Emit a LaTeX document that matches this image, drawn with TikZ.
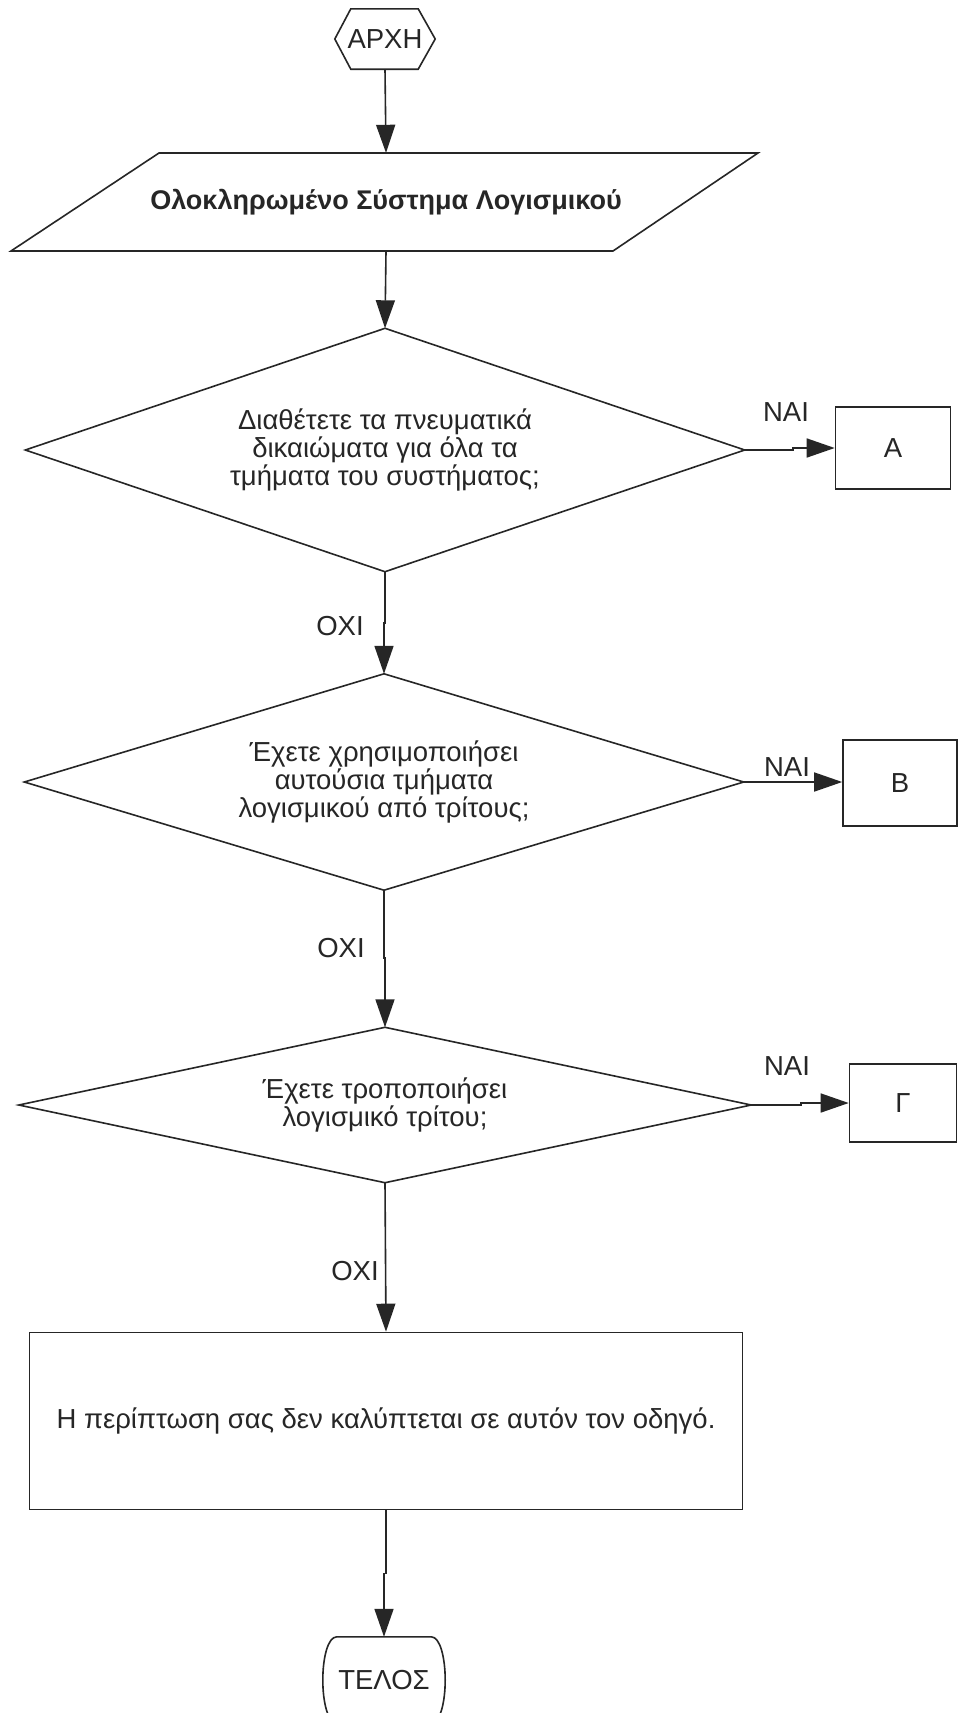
\documentclass[tikz,border=0pt]{standalone}
\usepackage{fontspec}
\setmainfont{Liberation Sans}
\usetikzlibrary{arrows.meta}
\begin{document}
\begin{tikzpicture}[x=1pt,y=-1pt,
  every node/.style={font=\fontsize{27.5}{28}\selectfont, inner sep=0pt, text=black!85},
  ln/.style={line width=1.6pt, draw=black!85},
  arr/.style={ln, -{Triangle[length=28pt,width=19pt]}},
  holder/.style={draw=none, align=center},
  boxnode/.style={ln, draw, rectangle, align=center}]
\clip (0,0) rectangle (958,1713);
\fill[white] (0,0) rectangle (958,1713);

% start hexagon
\node[holder, minimum width=100pt, minimum height=60pt] (start) at (385,39) {ΑΡΧΗ};
\draw[ln] (start.west) -- ([xshift=16pt]start.north west) -- ([xshift=-17pt]start.north east)
  -- (start.east) -- ([xshift=-17pt]start.south east) -- ([xshift=16pt]start.south west) -- cycle;

% input parallelogram
\node[holder, minimum width=450pt, minimum height=98pt, font=\fontsize{27}{28}\selectfont\bfseries] (in) at (386,202) {Ολοκληρωμένο Σύστημα Λογισμικού};
\draw[ln] (159,153) -- (758,153) -- (613,251) -- (11,251) -- cycle;

% decision 1
\node[holder, minimum width=719pt, minimum height=243pt] (d1) at (385,450)
  {Διαθέτετε τα πνευματικά\\δικαιώματα για όλα τα\\τμήματα του συστήματος;};
\draw[ln] (d1.north) -- (d1.east) -- (d1.south) -- (d1.west) -- cycle;
\node[boxnode, minimum width=115pt, minimum height=82pt] (A) at (893,448) {Α};

% decision 2
\node[holder, minimum width=719pt, minimum height=216pt] (d2) at (384,782)
  {Έχετε χρησιμοποιήσει\\αυτούσια τμήματα\\λογισμικού από τρίτους;};
\draw[ln] (d2.north) -- (d2.east) -- (d2.south) -- (d2.west) -- cycle;
\node[boxnode, minimum width=114pt, minimum height=86pt] (B) at (900,783) {Β};

% decision 3
\node[holder, minimum width=732pt, minimum height=155pt] (d3) at (385,1105)
  {Έχετε τροποποιήσει\\λογισμικό τρίτου;};
\draw[ln] (d3.north) -- (d3.east) -- (d3.south) -- (d3.west) -- cycle;
\node[boxnode, minimum width=107pt, minimum height=78pt] (G) at (903,1103) {Γ};

% result box
\node[boxnode, minimum width=713pt, minimum height=177pt] (out) at (386,1421)
  {Η περίπτωση σας δεν καλύπτεται σε αυτόν τον οδηγό.};

% end terminal
\node[holder, minimum width=122pt, minimum height=86pt] (end) at (384,1680) {ΤΕΛΟΣ};
\draw[ln] ([xshift=14pt]end.north west) -- ([xshift=-14pt]end.north east)
  .. controls ([xshift=-5pt]end.north east) and ([yshift=22pt]end.east) .. (end.east)
  .. controls ([yshift=-22pt]end.east) and ([xshift=-5pt]end.south east) .. ([xshift=-14pt]end.south east)
  -- ([xshift=14pt]end.south west)
  .. controls ([xshift=5pt]end.south west) and ([yshift=-22pt]end.west) .. (end.west)
  .. controls ([yshift=22pt]end.west) and ([xshift=5pt]end.north west) .. ([xshift=14pt]end.north west) -- cycle;

% connectors
\draw[arr] (start.south) -- (in.north);
\draw[arr] (in.south) -- (d1.north);
\draw[arr] (d1.east) -- ++(48,0) |- (A.west);
\draw[arr] (d1.south) -- ++(0,51) -| (d2.north);
\draw[arr] (d2.east) -- (d2.east -| B.west);
\draw[arr] (d2.south) -- ++(0,68) -| (d3.north);
\draw[arr] (d3.east) -- ++(50,0) |- (G.west);
\draw[arr] (d3.south) -- (out.north);
\draw[arr] (out.south) -- ++(0,63) -| (end.north);

% labels
\node (n1) at (786,412) {ΝΑΙ};
\node (n2) at (787,767) {ΝΑΙ};
\node (n3) at (787,1066) {ΝΑΙ};
\node (o1) at (340,626) {ΟΧΙ};
\node (o2) at (341,948) {ΟΧΙ};
\node (o3) at (355,1271) {ΟΧΙ};
\end{tikzpicture}
\end{document}
